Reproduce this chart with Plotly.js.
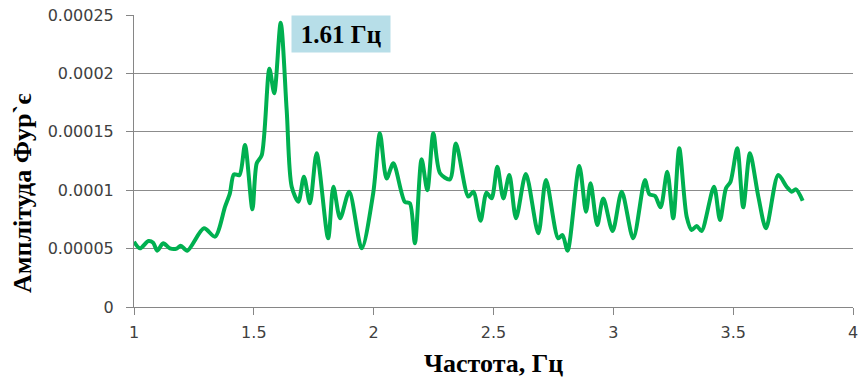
<!DOCTYPE html>
<html>
<head>
<meta charset="utf-8">
<script src="https://cdn.plot.ly/plotly-3.0.1.min.js"></script>
<style>html,body{margin:0;padding:0;background:#fff}#chart{width:860px;height:380px}</style>
</head>
<body>
<div id="chart"></div>
<script>
const freq = [1.0, 1.025, 1.06, 1.08, 1.097, 1.122, 1.15, 1.178, 1.195, 1.222, 1.292, 1.338, 1.38, 1.40, 1.417, 1.44, 1.463, 1.494, 1.512, 1.533, 1.565, 1.585, 1.612, 1.637, 1.658, 1.686, 1.709, 1.734, 1.762, 1.81, 1.832, 1.86, 1.898, 1.95, 1.998, 2.026, 2.054, 2.082, 2.13, 2.151, 2.172, 2.20, 2.224, 2.249, 2.277, 2.318, 2.343, 2.395, 2.416, 2.446, 2.471, 2.492, 2.516, 2.541, 2.566, 2.594, 2.635, 2.687, 2.719, 2.77, 2.788, 2.809, 2.858, 2.886, 2.905, 2.933, 2.958, 2.997, 3.035, 3.083, 3.132, 3.15, 3.174, 3.197, 3.225, 3.25, 3.275, 3.306, 3.327, 3.348, 3.368, 3.42, 3.445, 3.47, 3.489, 3.517, 3.542, 3.57, 3.605, 3.637, 3.688, 3.723, 3.744, 3.762, 3.79];
const amp1e5 = [5.59, 5.02, 5.65, 5.5, 4.82, 5.45, 5.02, 5.0, 5.25, 4.82, 6.74, 6.02, 8.59, 9.73, 11.36, 11.3, 13.87, 8.36, 12.3, 13.0, 20.4, 18.3, 24.34, 16.87, 10.3, 9.02, 11.16, 8.88, 13.16, 5.88, 10.3, 7.59, 9.87, 5.02, 9.73, 14.87, 11.0, 12.3, 9.0, 8.88, 5.45, 12.64, 10.0, 14.87, 11.45, 10.93, 14.0, 9.45, 9.87, 7.39, 9.79, 9.3, 12.0, 9.3, 11.3, 7.6, 11.39, 6.31, 10.87, 5.88, 6.16, 4.82, 12.07, 8.16, 10.59, 7.02, 9.3, 6.5, 9.87, 5.88, 10.87, 9.67, 9.5, 8.53, 11.58, 7.59, 13.59, 7.73, 6.59, 6.94, 6.5, 10.3, 7.45, 10.16, 10.73, 13.59, 8.53, 13.16, 9.45, 6.74, 11.3, 10.3, 9.87, 10.07, 9.1];
const amplitude = amp1e5.map(v => v * 1e-5);
const yTickVals = [0, 0.00005, 0.0001, 0.00015, 0.0002, 0.00025];
const yTickText = ["0", "0.00005", "0.0001", "0.00015", "0.0002", "0.00025"];
const xTickVals = [1, 1.5, 2, 2.5, 3, 3.5, 4];
const xTickText = ["1", "1.5", "2", "2.5", "3", "3.5", "4"];
const peakLabel = "1.61 Гц";
const xTitle = "Частота, Гц";
const yTitle = "Амплітуда Фур`є";

const trace = {
  x: freq, y: amplitude, type: 'scatter', mode: 'lines',
  line: {color: '#00B050', width: 4, shape: 'spline', smoothing: 0.8},
  hoverinfo: 'skip'
};
const tickFont = {family: 'DejaVu Sans, sans-serif', size: 16, color: '#404040'};
const titleFont = {family: 'Liberation Serif, Times New Roman, serif', size: 26, color: '#000000', weight: 'bold'};
const layout = {
  width: 860, height: 380,
  margin: {l: 134, r: 7, t: 15, b: 73, pad: 0},
  paper_bgcolor: '#ffffff', plot_bgcolor: '#ffffff',
  showlegend: false,
  xaxis: {
    range: [1, 4], tickvals: xTickVals, ticktext: xTickText,
    showgrid: false, zeroline: false,
    showline: true, linecolor: '#868686', linewidth: 1,
    ticks: 'outside', ticklen: 7, tickcolor: '#868686',
    ticklabelstandoff: 4,
    tickfont: tickFont
  },
  yaxis: {
    range: [0, 0.00025], tickvals: yTickVals, ticktext: yTickText,
    showgrid: true, gridcolor: '#8c8c8c', gridwidth: 1, zeroline: false,
    showline: true, linecolor: '#868686', linewidth: 1,
    ticks: 'outside', ticklen: 7, tickcolor: '#868686',
    ticklabelstandoff: 9,
    tickfont: tickFont
  },
  annotations: [
    {text: '<b>' + peakLabel + '</b>', xref: 'x', yref: 'y', x: 1.864, y: 0.0002335,
     showarrow: false, bgcolor: '#B7DEE8', width: 92, height: 30, borderpad: 3,
     font: {family: 'Liberation Serif, Times New Roman, serif', size: 25, color: '#000'}},
    {text: '<b>' + xTitle + '</b>', xref: 'paper', yref: 'paper', x: 0.5, y: -0.195,
     xanchor: 'center', yanchor: 'middle', showarrow: false, font: titleFont},
    {text: '<b>' + yTitle + '</b>', xref: 'paper', yref: 'paper', x: -0.156, y: 0.39,
     xanchor: 'center', yanchor: 'middle', textangle: -90, showarrow: false, font: titleFont}
  ]
};
Plotly.newPlot('chart', [trace], layout, {staticPlot: true, displayModeBar: false});
</script>
</body>
</html>
